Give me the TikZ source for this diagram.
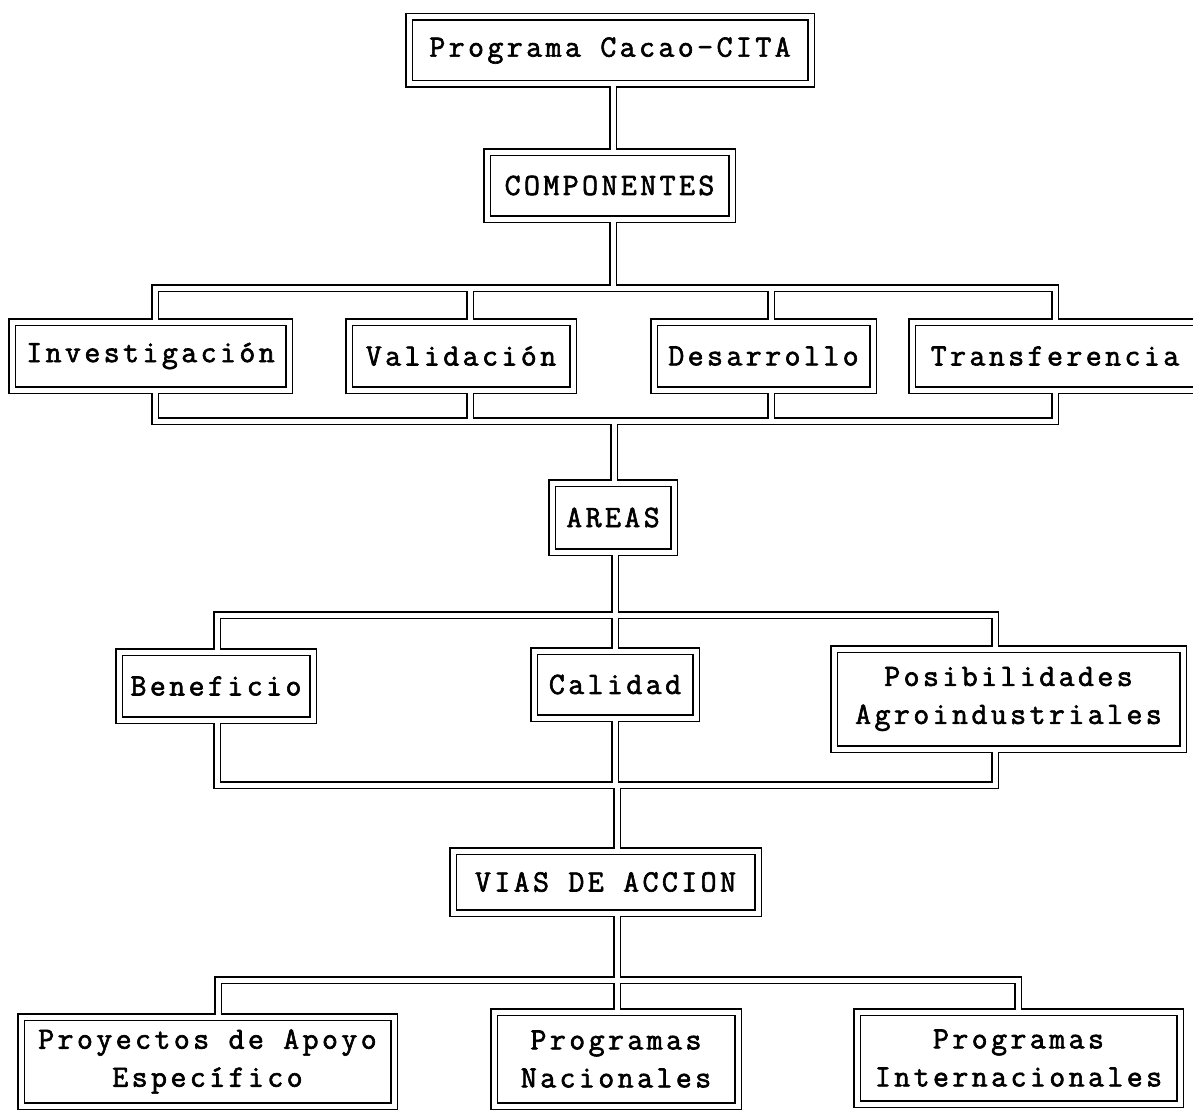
\documentclass[tikz,border=0pt]{standalone}
\usepackage{fontspec}
\newfontfamily\mono[LetterSpace=11,FakeBold=2]{Latin Modern Mono}
\begin{document}
\begin{tikzpicture}[x=1pt,y=-1pt,
  box/.style={inner sep=0pt, outer sep=0pt, align=center,
    font={\mono\fontsize{31}{38}\selectfont}}]
\useasboundingbox[fill=white] (0,0) rectangle (1193,1113);
% boxes (size = centre line of the double border)
\node[box, minimum width=402pt, minimum height=67pt] (top)   at (610,50.5)   {Programa Cacao-CITA};
\node[box, minimum width=245pt, minimum height=67pt] (comp)  at (609.5,185.5) {COMPONENTES};
\node[box, minimum width=277pt, minimum height=68pt] (inv)   at (150.5,356)  {Investigación};
\node[box, minimum width=224pt, minimum height=68pt] (val)   at (461,356)    {Validación};
\node[box, minimum width=219pt, minimum height=68pt] (des)   at (763.5,356)  {Desarrollo};
\node[box, minimum width=286pt, minimum height=68pt] (tra)   at (1055,356)   {Transferencia};
\node[box, minimum width=122pt, minimum height=69pt] (areas) at (613,517.5)  {AREAS};
\node[box, minimum width=194pt, minimum height=68pt] (ben)   at (216,686)    {Beneficio};
\node[box, minimum width=162pt, minimum height=67pt] (cal)   at (615,684.5)  {Calidad};
\node[box, minimum width=349pt, minimum height=100pt] (pos)  at (1008.5,699) {Posibilidades\\Agroindustriales};
\node[box, minimum width=305pt, minimum height=62pt] (vias)  at (605.5,882)  {VIAS DE ACCION};
\node[box, minimum width=373pt, minimum height=89pt] (pro)   at (207.5,1061.5) {Proyectos de Apoyo\\Específico};
\node[box, minimum width=244pt, minimum height=94pt] (nac)   at (616,1059)   {Programas\\Nacionales};
\node[box, minimum width=323pt, minimum height=92pt] (int)   at (1018.5,1058) {Programas\\Internacionales};
% bus lines and columns
\coordinate (b1) at (0,288);
\coordinate (b2) at (0,421);
\coordinate (b3) at (0,615);
\coordinate (b4) at (0,785);
\coordinate (b5) at (0,980);
\coordinate (s1) at (613,0);
\coordinate (s2) at (614,0);
\coordinate (s3) at (615,0);
\coordinate (s4) at (617,0);
\coordinate (k1) at (155,0);
\coordinate (k2) at (470,0);
\coordinate (k3) at (771,0);
\coordinate (k4) at (1055,0);
\coordinate (m1) at (217,0);
\coordinate (m3) at (995,0);
\coordinate (n1) at (218,0);
\coordinate (n3) at (1018,0);
\newcommand\wires{%
  \foreach \n in {top,comp,inv,val,des,tra,areas,ben,cal,pos,vias,pro,nac,int}
    {\draw (\n.north west) rectangle (\n.south east);}
  \draw (top.south -| s1) -- (comp.north -| s1);
  \draw (comp.south -| s1) -- (b1 -| s1);
  \draw (inv.north -| k1) |- (b1 -| k4) -- (tra.north -| k4);
  \draw (b1 -| k2) -- (val.north -| k2);
  \draw (b1 -| k3) -- (des.north -| k3);
  \draw (inv.south -| k1) |- (b2 -| k4) -- (tra.south -| k4);
  \draw (val.south -| k2) -- (b2 -| k2);
  \draw (des.south -| k3) -- (b2 -| k3);
  \draw (b2 -| s2) -- (areas.north -| s2);
  \draw (areas.south -| s3) -- (b3 -| s3);
  \draw (ben.north -| m1) |- (b3 -| m3) -- (pos.north -| m3);
  \draw (b3 -| s3) -- (cal.north -| s3);
  \draw (ben.south -| m1) |- (b4 -| m3) -- (pos.south -| m3);
  \draw (cal.south -| s3) -- (b4 -| s3);
  \draw (b4 -| s4) -- (vias.north -| s4);
  \draw (vias.south -| s4) -- (b5 -| s4);
  \draw (pro.north -| n1) |- (b5 -| n3) -- (int.north -| n3);
  \draw (b5 -| s4) -- (nac.north -| s4);
}
\begin{scope}[black, line width=8pt]\wires\end{scope}
\begin{scope}[white, line width=5pt]\wires\end{scope}
\end{tikzpicture}
\end{document}
